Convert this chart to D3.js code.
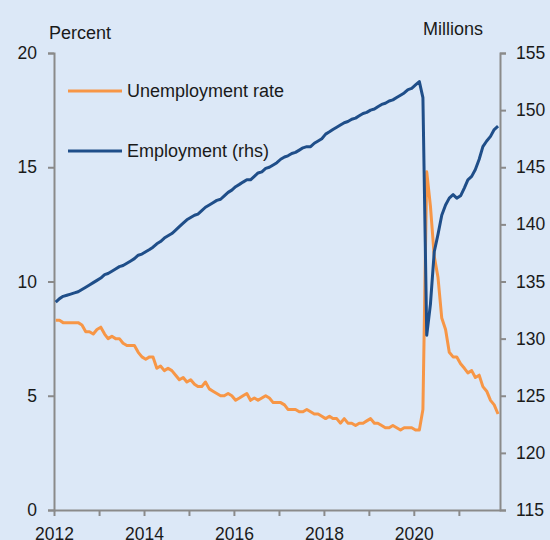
<!DOCTYPE html>
<meta charset="utf-8">
<style>
body { margin: 0; background: #dce8f7; }
svg { display: block; font-family: "Liberation Sans", Arial, sans-serif; }
.axis path, .axis line { stroke: #8a8a8a; stroke-width: 2px; }
.axis text { fill: #1a1a1a; font-size: 17.5px; }
.line { fill: none; stroke-width: 3px; stroke-linejoin: round; }
</style>
<body>
<script src="https://d3js.org/d3.v7.min.js"></script>
<script>
// monthly, Jan 2012 - Nov 2021
var unemployment = [
  8.3, 8.3, 8.2, 8.2, 8.2, 8.2, 8.2, 8.1, 7.8, 7.8, 7.7, 7.9,
  8.0, 7.7, 7.5, 7.6, 7.5, 7.5, 7.3, 7.2, 7.2, 7.2, 6.9, 6.7,
  6.6, 6.7, 6.7, 6.2, 6.3, 6.1, 6.2, 6.1, 5.9, 5.7, 5.8, 5.6,
  5.7, 5.5, 5.4, 5.4, 5.6, 5.3, 5.2, 5.1, 5.0, 5.0, 5.1, 5.0,
  4.8, 4.9, 5.0, 5.1, 4.8, 4.9, 4.8, 4.9, 5.0, 4.9, 4.7, 4.7,
  4.7, 4.6, 4.4, 4.4, 4.4, 4.3, 4.3, 4.4, 4.3, 4.2, 4.2, 4.1,
  4.0, 4.1, 4.0, 4.0, 3.8, 4.0, 3.8, 3.8, 3.7, 3.8, 3.8, 3.9,
  4.0, 3.8, 3.8, 3.7, 3.6, 3.6, 3.7, 3.6, 3.5, 3.6, 3.6, 3.6,
  3.5, 3.5, 4.4, 14.8, 13.3, 11.1, 10.2, 8.4, 7.9, 6.9, 6.7, 6.7,
  6.4, 6.2, 6.0, 6.1, 5.8, 5.9, 5.4, 5.2, 4.8, 4.6, 4.2
];
var employment = [
  133.2, 133.5, 133.7, 133.8, 133.9, 134.0, 134.1, 134.3, 134.5, 134.7, 134.9, 135.1,
  135.3, 135.6, 135.7, 135.9, 136.1, 136.3, 136.4, 136.6, 136.8, 137.0, 137.3, 137.4,
  137.6, 137.8, 138.0, 138.3, 138.5, 138.8, 139.0, 139.2, 139.5, 139.8, 140.1, 140.4,
  140.6, 140.8, 140.9, 141.2, 141.5, 141.7, 141.9, 142.1, 142.2, 142.5, 142.8, 143.0,
  143.3, 143.5, 143.7, 143.9, 143.9, 144.2, 144.5, 144.6, 144.9, 145.0, 145.2, 145.4,
  145.7, 145.9, 146.0, 146.2, 146.3, 146.5, 146.7, 146.8, 146.8, 147.1, 147.3, 147.5,
  147.9, 148.1, 148.3, 148.5, 148.7, 148.9, 149.0, 149.2, 149.3, 149.5, 149.7, 149.8,
  150.0, 150.1, 150.3, 150.5, 150.6, 150.8, 150.9, 151.1, 151.3, 151.5, 151.8, 151.9,
  152.2, 152.5, 151.1, 130.3, 133.0, 137.6, 139.1, 140.8, 141.7, 142.3, 142.6, 142.3,
  142.5, 143.2, 143.9, 144.2, 144.8, 145.7, 146.8, 147.3, 147.7, 148.3, 148.6
];
var yearTicks = [2012, 2013, 2014, 2015, 2016, 2017, 2018, 2019, 2020, 2021];
var leftTicks = [0, 5, 10, 15, 20];
var rightTicks = [115, 120, 125, 130, 135, 140, 145, 150, 155];

var W = 550, H = 540;
var margin = {top: 53, right: 50, bottom: 30, left: 54};

var svg = d3.select("body").append("svg")
    .attr("width", W)
    .attr("height", H);

var dates = unemployment.map(function(d, i) { return new Date(2012, i, 15); });

var x = d3.scaleTime()
    .domain([new Date(2012, 0, 1), new Date(2021, 11, 1)])
    .range([margin.left, W - margin.right]);
var yL = d3.scaleLinear().domain([0, 20]).range([H - margin.bottom, margin.top]);
var yR = d3.scaleLinear().domain([115, 155]).range([H - margin.bottom, margin.top]);

// axes
svg.append("g")
    .attr("class", "axis")
    .attr("transform", "translate(0," + (H - margin.bottom) + ")")
    .call(d3.axisBottom(x)
      .tickValues(yearTicks.map(function(y) { return new Date(y, 0, 1); }))
      .tickSize(6).tickSizeOuter(0).tickPadding(12)
      .tickFormat(function(d) { var y = d.getFullYear(); return y % 2 === 0 ? y : ""; }));

svg.append("g")
    .attr("class", "axis")
    .attr("transform", "translate(" + margin.left + ",0)")
    .call(d3.axisLeft(yL).tickValues(leftTicks).tickSize(6).tickSizeOuter(6).tickPadding(11));

svg.append("g")
    .attr("class", "axis")
    .attr("transform", "translate(" + (W - margin.right) + ",0)")
    .call(d3.axisRight(yR).tickValues(rightTicks).tickSize(6).tickSizeOuter(6).tickPadding(10));

svg.selectAll(".axis .domain").attr("stroke", "#8a8a8a");

svg.append("text").attr("x", 49).attr("y", 39)
    .style("font-size", "18px").style("fill", "#1a1a1a").text("Percent");
svg.append("text").attr("x", 483).attr("y", 35).attr("text-anchor", "end")
    .style("font-size", "18px").style("fill", "#1a1a1a").text("Millions");

// lines
var lineL = d3.line()
    .x(function(d, i) { return x(dates[i]); })
    .y(function(d) { return yL(d); });
var lineR = d3.line()
    .x(function(d, i) { return x(dates[i]); })
    .y(function(d) { return yR(d); });

svg.append("path")
    .datum(unemployment)
    .attr("class", "line")
    .style("stroke", "#f79646")
    .attr("d", lineL);

svg.append("path")
    .datum(employment)
    .attr("class", "line")
    .style("stroke", "#1f4e89")
    .attr("d", lineR);

// legend
var legend = [
  {name: "Unemployment rate", color: "#f79646", y: 91},
  {name: "Employment (rhs)", color: "#1f4e89", y: 151}
];
legend.forEach(function(l) {
  svg.append("line")
      .attr("x1", 68).attr("x2", 122)
      .attr("y1", l.y).attr("y2", l.y)
      .style("stroke", l.color).style("stroke-width", 3);
  svg.append("text")
      .attr("x", 127).attr("y", l.y).attr("dy", "0.35em")
      .style("font-size", "18px").style("fill", "#1a1a1a")
      .text(l.name);
});
</script>
</body>
